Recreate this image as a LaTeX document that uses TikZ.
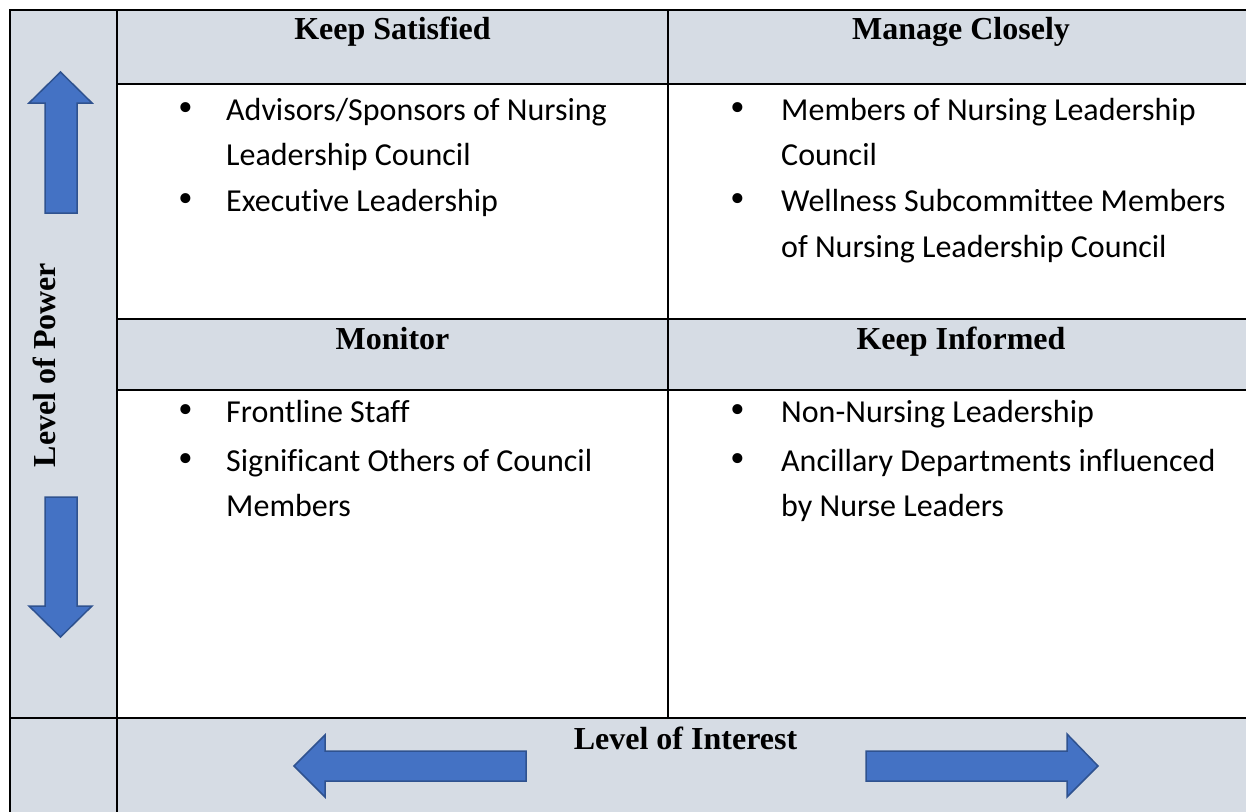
\documentclass[tikz,border=0pt]{standalone}
\usepackage{fontspec}
\setmainfont{Liberation Serif}
\newfontfamily\bodyfont[Ligatures=NoCommon]{Carlito}
\definecolor{cellgray}{HTML}{D6DCE4}
\definecolor{arrowblue}{HTML}{4472C4}
\definecolor{arrowedge}{HTML}{2F528F}
\begin{document}
\begin{tikzpicture}[x=1pt,y=-1pt,
  gridline/.style={line width=2.4pt, black, line cap=rect},
  hdr/.style={font=\fontsize{32}{38}\selectfont\bfseries, inner sep=0pt, anchor=base},
  entry/.style={font=\bodyfont\fontsize{32}{38}\selectfont, inner sep=0pt, anchor=base west},
  bullet/.style={font=\fontsize{42}{42}\selectfont, inner sep=0pt, anchor=base},
  bluearrow/.style={fill=arrowblue, draw=arrowedge, line width=1.5pt, line join=miter},
]
\useasboundingbox (0,0) rectangle (1246,811);
\fill[white] (0,0) rectangle (1246,811);
\clip (0,0) rectangle (1246,811);

% shaded cells
\fill[cellgray] (10,10) rectangle (117,830);
\fill[cellgray] (117,10) rectangle (1260,84);
\fill[cellgray] (117,319) rectangle (1260,390);
\fill[cellgray] (117,718) rectangle (1260,830);

% table rules
\draw[gridline] (10,830) -- (10,10) -- (1260,10);
\draw[gridline] (117,10) -- (117,830);
\draw[gridline] (668,10) -- (668,718);
\draw[gridline] (117,84) -- (1260,84);
\draw[gridline] (117,319) -- (1260,319);
\draw[gridline] (117,390) -- (1260,390);
\draw[gridline] (10,718) -- (1260,718);

% quadrant headings
\node[hdr] (ks) at (392.5,39) {Keep Satisfied};
\node[hdr] (mc) at (961,39) {Manage Closely};
\node[hdr] (mo) at (392.5,349) {Monitor};
\node[hdr] (ki) at (961,349) {Keep Informed};
\node[hdr] (loi) at (685.5,749) {Level of Interest};
\node[hdr, rotate=90] (lop) at (55,365) {Level of Power};

% keep satisfied
\node[bullet] (b1) at (186,121) {•};
\node[entry] (t1a) at (226,120) {Advisors/Sponsors of Nursing};
\node[entry] (t1b) at (226,165) {Leadership Council};
\node[bullet] (b2) at (186,212) {•};
\node[entry] (t2a) at (226,211) {Executive Leadership};

% manage closely
\node[bullet] (b3) at (738,121) {•};
\node[entry] (t3a) at (781,120) {Members of Nursing Leadership};
\node[entry] (t3b) at (781,165) {Council};
\node[bullet] (b4) at (738,212) {•};
\node[entry] (t4a) at (781,211) {Wellness Subcommittee Members};
\node[entry] (t4b) at (781,257) {of Nursing Leadership Council};

% monitor
\node[bullet] (b5) at (186,423) {•};
\node[entry] (t5a) at (226,422) {Frontline Staff};
\node[bullet] (b6) at (186,472) {•};
\node[entry] (t6a) at (226,471) {Significant Others of Council};
\node[entry] (t6b) at (226,516) {Members};

% keep informed
\node[bullet] (b7) at (738,423) {•};
\node[entry] (t7a) at (781,422) {Non-Nursing Leadership};
\node[bullet] (b8) at (738,472) {•};
\node[entry] (t8a) at (781,471) {Ancillary Departments influenced};
\node[entry] (t8b) at (781,516) {by Nurse Leaders};

% axis arrows
\draw[bluearrow] (45,213) -- (45,103) -- (29,103) -- (60.5,72) -- (92,103) -- (77,103) -- (77,213) -- cycle;
\draw[bluearrow] (45,497) -- (45,606) -- (29,606) -- (60.5,637) -- (92,606) -- (77,606) -- (77,497) -- cycle;
\draw[bluearrow] (526,751) -- (325,751) -- (325,735) -- (294,766) -- (325,797) -- (325,781) -- (526,781) -- cycle;
\draw[bluearrow] (866,751) -- (1067,751) -- (1067,734) -- (1098,766) -- (1067,797) -- (1067,781) -- (866,781) -- cycle;
\end{tikzpicture}
\end{document}
